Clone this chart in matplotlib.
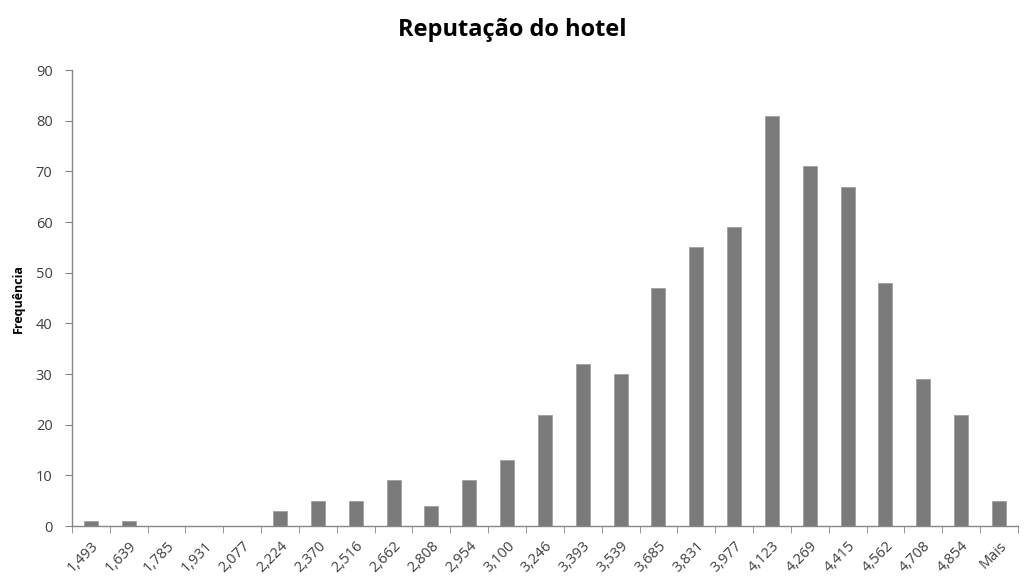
import matplotlib.pyplot as plt
import numpy as np

# histogram bins (upper bounds) and counts
bins = ['1,493', '1,639', '1,785', '1,931', '2,077', '2,224', '2,370', '2,516',
        '2,662', '2,808', '2,954', '3,100', '3,246', '3,393', '3,539', '3,685',
        '3,831', '3,977', '4,123', '4,269', '4,415', '4,562', '4,708', '4,854', 'Mais']
counts = [1, 1, 0, 0, 0, 3, 5, 5, 9, 4, 9, 13, 22, 32, 30, 47, 55, 59, 81, 71, 67, 48, 29, 22, 5]

plt.rcParams['font.family'] = ['Open Sans', 'DejaVu Sans']

fig = plt.figure(figsize=(10.24, 5.84), dpi=100)
ax = fig.add_axes([0.0703, 0.0993, 0.9237, 0.7807])

x = np.arange(len(bins))
ax.bar(x, counts, width=0.37, color='#7a7a7a', edgecolor='#a0a0a0', linewidth=0.6)

ax.set_xlim(-0.5, len(bins) - 0.5)
ax.set_ylim(0, 90)
ax.set_yticks(range(0, 91, 10))
ax.set_xticks(x)
ax.set_xticklabels(bins, rotation=45, ha='right', rotation_mode='anchor', fontsize=10.5, color='#404040')
ax.set_xticks(np.arange(-0.5, len(bins), 1), minor=True)
ax.tick_params(axis='x', which='major', length=0, pad=9)
ax.tick_params(axis='x', which='minor', length=5, color='#868686', direction='out')
ax.tick_params(axis='y', length=5, color='#868686', labelsize=10.5, labelcolor='#404040', pad=9)

for s in ['top', 'right']:
    ax.spines[s].set_visible(False)
for s in ['left', 'bottom']:
    ax.spines[s].set_color('#868686')
    ax.spines[s].set_linewidth(1.0)

ax.set_ylabel('Frequência', fontsize=9, fontweight='bold', labelpad=8)
fig.suptitle('Reputação do hotel', fontsize=17, fontweight='bold', y=0.97)

fig.savefig('out.png', dpi=100, facecolor='white')
